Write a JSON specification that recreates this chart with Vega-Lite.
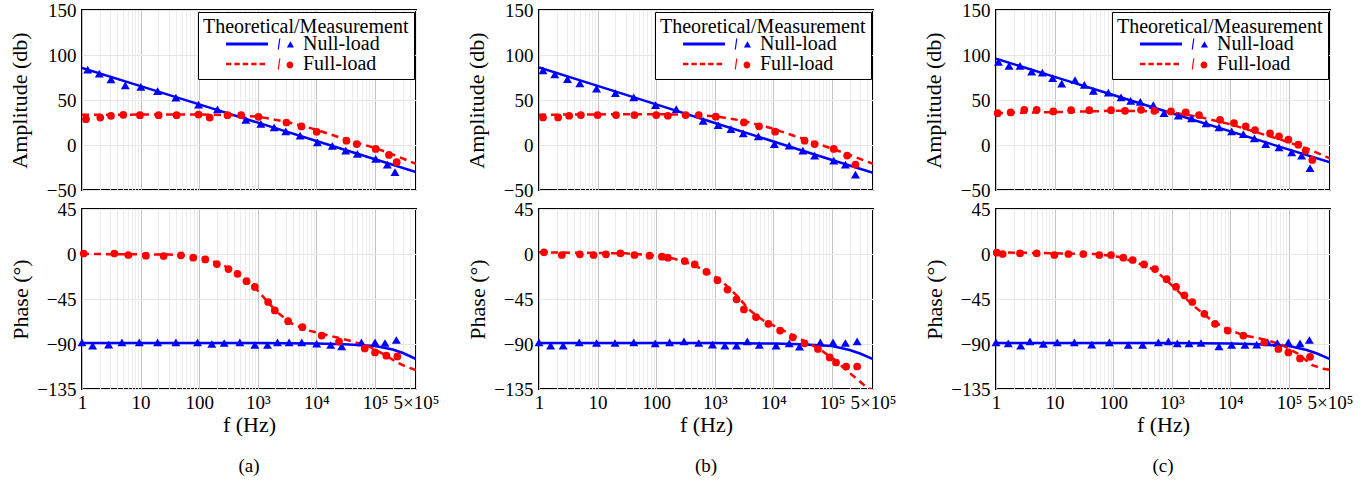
{
  "$schema": "https://vega.github.io/schema/vega-lite/v6.json",
  "background": "white",
  "padding": {"left": 7, "top": 0, "right": 0, "bottom": 0},
  "config": {
    "view": {"stroke": "black", "strokeWidth": 2},
    "font": "Liberation Serif",
    "axis": {"domain": false, "ticks": false, "tickSize": 0, "grid": true, "labelFont": "Liberation Serif", "labelFontSize": 19, "labelColor": "black", "titleFont": "Liberation Serif", "titleFontSize": 22, "titleFontWeight": "normal", "titleColor": "black", "labelPadding": 6, "gridWidth": 1},
    "axisY": {"gridColor": "#e6e6e6", "titlePadding": 15},
    "legend": {"orient": "top-right", "offset": 2, "strokeColor": "black", "fillColor": "white", "padding": 5, "titleFont": "Liberation Serif", "titleFontSize": 20, "titleFontWeight": "normal", "titleColor": "black", "titleLimit": 0, "labelFont": "Liberation Serif", "labelFontSize": 20, "labelColor": "black", "symbolSize": 400, "symbolOffset": 47, "labelOffset": 33, "symbolStrokeWidth": 0, "rowPadding": -1, "titlePadding": -3, "symbolOpacity": 1, "labelLimit": 0},
    "title": {"font": "Liberation Serif", "fontSize": 19, "fontWeight": "normal", "color": "black"}
  },
  "datasets": {
    "amp_th": [
      {"p":"a","s":"Null-load","f":1,"v":85.7},{"p":"a","s":"Null-load","f":10,"v":65.4},{"p":"a","s":"Null-load","f":100,"v":45.1},{"p":"a","s":"Null-load","f":1000,"v":24.8},{"p":"a","s":"Null-load","f":10000,"v":4.5},{"p":"a","s":"Null-load","f":100000,"v":-15.8},{"p":"a","s":"Null-load","f":500000,"v":-30},
      {"p":"a","s":"Full-load","f":1,"v":33.5},{"p":"a","s":"Full-load","f":10,"v":33.8},{"p":"a","s":"Full-load","f":100,"v":33.8},{"p":"a","s":"Full-load","f":300,"v":33.3},{"p":"a","s":"Full-load","f":1000,"v":31.5},{"p":"a","s":"Full-load","f":3000,"v":26},{"p":"a","s":"Full-load","f":10000,"v":17},{"p":"a","s":"Full-load","f":30000,"v":6.6},{"p":"a","s":"Full-load","f":100000,"v":-3.3},{"p":"a","s":"Full-load","f":220000,"v":-11.5},{"p":"a","s":"Full-load","f":500000,"v":-21},
      {"p":"b","s":"Null-load","f":1,"v":86.3},{"p":"b","s":"Null-load","f":10,"v":65.7},{"p":"b","s":"Null-load","f":100,"v":45.1},{"p":"b","s":"Null-load","f":1000,"v":24.5},{"p":"b","s":"Null-load","f":10000,"v":3.9},{"p":"b","s":"Null-load","f":100000,"v":-16.7},{"p":"b","s":"Null-load","f":500000,"v":-31},
      {"p":"b","s":"Full-load","f":1,"v":33.6},{"p":"b","s":"Full-load","f":10,"v":34},{"p":"b","s":"Full-load","f":100,"v":34.3},{"p":"b","s":"Full-load","f":300,"v":33.6},{"p":"b","s":"Full-load","f":1000,"v":32},{"p":"b","s":"Full-load","f":3000,"v":27},{"p":"b","s":"Full-load","f":10000,"v":18},{"p":"b","s":"Full-load","f":30000,"v":7.5},{"p":"b","s":"Full-load","f":100000,"v":-4},{"p":"b","s":"Full-load","f":220000,"v":-12},{"p":"b","s":"Full-load","f":500000,"v":-21},
      {"p":"c","s":"Null-load","f":1,"v":95.9},{"p":"c","s":"Null-load","f":10,"v":75.7},{"p":"c","s":"Null-load","f":100,"v":55.5},{"p":"c","s":"Null-load","f":1000,"v":35.3},{"p":"c","s":"Null-load","f":10000,"v":15.1},{"p":"c","s":"Null-load","f":100000,"v":-5.1},{"p":"c","s":"Null-load","f":500000,"v":-19.2},
      {"p":"c","s":"Full-load","f":1,"v":35.4},{"p":"c","s":"Full-load","f":10,"v":36.5},{"p":"c","s":"Full-load","f":100,"v":38},{"p":"c","s":"Full-load","f":300,"v":37.8},{"p":"c","s":"Full-load","f":1000,"v":36.2},{"p":"c","s":"Full-load","f":3000,"v":31},{"p":"c","s":"Full-load","f":10000,"v":23},{"p":"c","s":"Full-load","f":30000,"v":13.5},{"p":"c","s":"Full-load","f":100000,"v":3},{"p":"c","s":"Full-load","f":220000,"v":-5},{"p":"c","s":"Full-load","f":500000,"v":-14.8}
    ],
    "amp_meas": [
      {"p":"a","s":"Null-load","f":1.25,"v":83.8},{"p":"a","s":"Null-load","f":1.97,"v":79.4},{"p":"a","s":"Null-load","f":3.12,"v":72.8},{"p":"a","s":"Null-load","f":5.48,"v":66.2},{"p":"a","s":"Null-load","f":10.1,"v":64.7},{"p":"a","s":"Null-load","f":19.5,"v":59.9},{"p":"a","s":"Null-load","f":40,"v":52.6},{"p":"a","s":"Null-load","f":97.5,"v":44.9},{"p":"a","s":"Null-load","f":205,"v":39.7},{"p":"a","s":"Null-load","f":624,"v":27.9},{"p":"a","s":"Null-load","f":1125,"v":23.5},{"p":"a","s":"Null-load","f":1900,"v":19.5},{"p":"a","s":"Null-load","f":3000,"v":15.1},{"p":"a","s":"Null-load","f":5270,"v":10.3},{"p":"a","s":"Null-load","f":10400,"v":2.9},{"p":"a","s":"Null-load","f":18700,"v":-1.1},{"p":"a","s":"Null-load","f":31600,"v":-6.3},{"p":"a","s":"Null-load","f":50000,"v":-9.9},{"p":"a","s":"Null-load","f":102600,"v":-15.4},{"p":"a","s":"Null-load","f":162000,"v":-21.7},{"p":"a","s":"Null-load","f":219000,"v":-30.1},
      {"p":"a","s":"Full-load","f":1.17,"v":28.7},{"p":"a","s":"Full-load","f":2.05,"v":30.5},{"p":"a","s":"Full-load","f":3.12,"v":32.4},{"p":"a","s":"Full-load","f":5.07,"v":33.5},{"p":"a","s":"Full-load","f":9.75,"v":33.1},{"p":"a","s":"Full-load","f":20.3,"v":33.1},{"p":"a","s":"Full-load","f":41.1,"v":33.1},{"p":"a","s":"Full-load","f":97.5,"v":33.8},{"p":"a","s":"Full-load","f":151,"v":30.5},{"p":"a","s":"Full-load","f":304,"v":33.1},{"p":"a","s":"Full-load","f":520,"v":33.1},{"p":"a","s":"Full-load","f":1026,"v":31.3},{"p":"a","s":"Full-load","f":3080,"v":25},{"p":"a","s":"Full-load","f":5550,"v":20.6},{"p":"a","s":"Full-load","f":10100,"v":14.7},{"p":"a","s":"Full-load","f":32500,"v":4.8},{"p":"a","s":"Full-load","f":48700,"v":1.1},{"p":"a","s":"Full-load","f":102600,"v":-4.4},{"p":"a","s":"Full-load","f":173000,"v":-11},{"p":"a","s":"Full-load","f":234000,"v":-19.1},
      {"p":"b","s":"Null-load","f":1.17,"v":83},{"p":"b","s":"Null-load","f":1.86,"v":78.6},{"p":"b","s":"Null-load","f":3.06,"v":73.1},{"p":"b","s":"Null-load","f":4.98,"v":68.6},{"p":"b","s":"Null-load","f":9.6,"v":62.7},{"p":"b","s":"Null-load","f":20.1,"v":57.6},{"p":"b","s":"Null-load","f":41.4,"v":52.8},{"p":"b","s":"Null-load","f":97.4,"v":44.3},{"p":"b","s":"Null-load","f":220,"v":39.9},{"p":"b","s":"Null-load","f":631,"v":26.9},{"p":"b","s":"Null-load","f":1140,"v":22.1},{"p":"b","s":"Null-load","f":1880,"v":17.7},{"p":"b","s":"Null-load","f":3060,"v":12.9},{"p":"b","s":"Null-load","f":5530,"v":9.6},{"p":"b","s":"Null-load","f":10400,"v":1.1},{"p":"b","s":"Null-load","f":18600,"v":-0.7},{"p":"b","s":"Null-load","f":31800,"v":-6.3},{"p":"b","s":"Null-load","f":50500,"v":-11.8},{"p":"b","s":"Null-load","f":107000,"v":-17.3},{"p":"b","s":"Null-load","f":169000,"v":-21.8},{"p":"b","s":"Null-load","f":251000,"v":-32.8},
      {"p":"b","s":"Full-load","f":1.17,"v":30.6},{"p":"b","s":"Full-load","f":2.12,"v":30.6},{"p":"b","s":"Full-load","f":3.27,"v":32.5},{"p":"b","s":"Full-load","f":5.18,"v":33.2},{"p":"b","s":"Full-load","f":10,"v":33.2},{"p":"b","s":"Full-load","f":20.6,"v":33.2},{"p":"b","s":"Full-load","f":42.5,"v":33.2},{"p":"b","s":"Full-load","f":100,"v":33.2},{"p":"b","s":"Full-load","f":158,"v":32.5},{"p":"b","s":"Full-load","f":318,"v":33.2},{"p":"b","s":"Full-load","f":532,"v":33.2},{"p":"b","s":"Full-load","f":1040,"v":31.4},{"p":"b","s":"Full-load","f":3140,"v":25.1},{"p":"b","s":"Full-load","f":5680,"v":20.7},{"p":"b","s":"Full-load","f":10700,"v":14.8},{"p":"b","s":"Full-load","f":34000,"v":4.8},{"p":"b","s":"Full-load","f":50500,"v":1.1},{"p":"b","s":"Full-load","f":107000,"v":-4.4},{"p":"b","s":"Full-load","f":181000,"v":-11.8},{"p":"b","s":"Full-load","f":251000,"v":-21.8},
      {"p":"c","s":"Null-load","f":1.1,"v":92.3},{"p":"c","s":"Null-load","f":1.67,"v":87.8},{"p":"c","s":"Null-load","f":2.57,"v":87.8},{"p":"c","s":"Null-load","f":4.06,"v":81.5},{"p":"c","s":"Null-load","f":6.18,"v":80.4},{"p":"c","s":"Null-load","f":9.27,"v":74.2},{"p":"c","s":"Null-load","f":13.2,"v":68.3},{"p":"c","s":"Null-load","f":22.3,"v":72},{"p":"c","s":"Null-load","f":32.2,"v":66.8},{"p":"c","s":"Null-load","f":45.8,"v":60.1},{"p":"c","s":"Null-load","f":82.6,"v":58.3},{"p":"c","s":"Null-load","f":136,"v":52.8},{"p":"c","s":"Null-load","f":199,"v":49.1},{"p":"c","s":"Null-load","f":290,"v":48},{"p":"c","s":"Null-load","f":484,"v":44.3},{"p":"c","s":"Null-load","f":736,"v":35.4},{"p":"c","s":"Null-load","f":1290,"v":32.5},{"p":"c","s":"Null-load","f":2180,"v":29.5},{"p":"c","s":"Null-load","f":3840,"v":24},{"p":"c","s":"Null-load","f":6380,"v":19.6},{"p":"c","s":"Null-load","f":10500,"v":15.1},{"p":"c","s":"Null-load","f":16600,"v":12.2},{"p":"c","s":"Null-load","f":25600,"v":7.4},{"p":"c","s":"Null-load","f":40000,"v":1.1},{"p":"c","s":"Null-load","f":67400,"v":-2.6},{"p":"c","s":"Null-load","f":111000,"v":-8.1},{"p":"c","s":"Null-load","f":164000,"v":-11.8},{"p":"c","s":"Null-load","f":228000,"v":-25.8},
      {"p":"c","s":"Full-load","f":1.07,"v":35.4},{"p":"c","s":"Full-load","f":1.78,"v":36.2},{"p":"c","s":"Full-load","f":3.04,"v":39.1},{"p":"c","s":"Full-load","f":4.94,"v":39.1},{"p":"c","s":"Full-load","f":9.51,"v":37.3},{"p":"c","s":"Full-load","f":19.1,"v":38.7},{"p":"c","s":"Full-load","f":39.1,"v":38.7},{"p":"c","s":"Full-load","f":91.7,"v":38.7},{"p":"c","s":"Full-load","f":159,"v":38},{"p":"c","s":"Full-load","f":298,"v":39.1},{"p":"c","s":"Full-load","f":504,"v":38},{"p":"c","s":"Full-load","f":968,"v":37.3},{"p":"c","s":"Full-load","f":1730,"v":36.2},{"p":"c","s":"Full-load","f":2910,"v":33.2},{"p":"c","s":"Full-load","f":6650,"v":28},{"p":"c","s":"Full-load","f":11500,"v":24.4},{"p":"c","s":"Full-load","f":18200,"v":20.7},{"p":"c","s":"Full-load","f":26300,"v":16.6},{"p":"c","s":"Full-load","f":47400,"v":12.9},{"p":"c","s":"Full-load","f":67400,"v":9.6},{"p":"c","s":"Full-load","f":97500,"v":5.9},{"p":"c","s":"Full-load","f":144000,"v":0.4},{"p":"c","s":"Full-load","f":192000,"v":-6.3},{"p":"c","s":"Full-load","f":250000,"v":-16.6}
    ],
    "ph_th": [
      {"p":"a","s":"Null-load","f":1,"v":-89},{"p":"a","s":"Null-load","f":1000,"v":-89},{"p":"a","s":"Null-load","f":10000,"v":-89.5},{"p":"a","s":"Null-load","f":30000,"v":-90.2},{"p":"a","s":"Null-load","f":100000,"v":-92},{"p":"a","s":"Null-load","f":200000,"v":-95.5},{"p":"a","s":"Null-load","f":300000,"v":-99},{"p":"a","s":"Null-load","f":500000,"v":-105},
      {"p":"a","s":"Full-load","f":1,"v":0},{"p":"a","s":"Full-load","f":30,"v":-0.5},{"p":"a","s":"Full-load","f":60,"v":-1.5},{"p":"a","s":"Full-load","f":114,"v":-3.7},{"p":"a","s":"Full-load","f":219,"v":-9.4},{"p":"a","s":"Full-load","f":422,"v":-17.8},{"p":"a","s":"Full-load","f":711,"v":-28.5},{"p":"a","s":"Full-load","f":1054,"v":-38},{"p":"a","s":"Full-load","f":1560,"v":-49.7},{"p":"a","s":"Full-load","f":2310,"v":-59.8},{"p":"a","s":"Full-load","f":3900,"v":-69.8},{"p":"a","s":"Full-load","f":7500,"v":-76.6},{"p":"a","s":"Full-load","f":16400,"v":-81.6},{"p":"a","s":"Full-load","f":36000,"v":-86.5},{"p":"a","s":"Full-load","f":79000,"v":-92.5},{"p":"a","s":"Full-load","f":150000,"v":-101},{"p":"a","s":"Full-load","f":230000,"v":-108},{"p":"a","s":"Full-load","f":350000,"v":-113},{"p":"a","s":"Full-load","f":500000,"v":-116},
      {"p":"b","s":"Null-load","f":1,"v":-89},{"p":"b","s":"Null-load","f":1000,"v":-89},{"p":"b","s":"Null-load","f":10000,"v":-89.5},{"p":"b","s":"Null-load","f":30000,"v":-90.2},{"p":"b","s":"Null-load","f":100000,"v":-92},{"p":"b","s":"Null-load","f":200000,"v":-96},{"p":"b","s":"Null-load","f":300000,"v":-99.5},{"p":"b","s":"Null-load","f":500000,"v":-105},
      {"p":"b","s":"Full-load","f":1,"v":1.7},{"p":"b","s":"Full-load","f":30,"v":0.7},{"p":"b","s":"Full-load","f":100,"v":-1.7},{"p":"b","s":"Full-load","f":193,"v":-4.4},{"p":"b","s":"Full-load","f":373,"v":-9.4},{"p":"b","s":"Full-load","f":719,"v":-17.1},{"p":"b","s":"Full-load","f":1390,"v":-28.5},{"p":"b","s":"Full-load","f":2350,"v":-41.3},{"p":"b","s":"Full-load","f":3980,"v":-56.4},{"p":"b","s":"Full-load","f":6740,"v":-66.5},{"p":"b","s":"Full-load","f":13000,"v":-74.9},{"p":"b","s":"Full-load","f":22000,"v":-81.6},{"p":"b","s":"Full-load","f":37300,"v":-88.3},{"p":"b","s":"Full-load","f":63100,"v":-95.7},{"p":"b","s":"Full-load","f":107000,"v":-105.1},{"p":"b","s":"Full-load","f":181000,"v":-116.9},{"p":"b","s":"Full-load","f":398000,"v":-133.6},{"p":"b","s":"Full-load","f":485000,"v":-136},
      {"p":"c","s":"Null-load","f":1,"v":-89},{"p":"c","s":"Null-load","f":1000,"v":-89},{"p":"c","s":"Null-load","f":10000,"v":-89.5},{"p":"c","s":"Null-load","f":30000,"v":-90.2},{"p":"c","s":"Null-load","f":100000,"v":-92},{"p":"c","s":"Null-load","f":200000,"v":-96},{"p":"c","s":"Null-load","f":300000,"v":-99.5},{"p":"c","s":"Null-load","f":500000,"v":-105},
      {"p":"c","s":"Full-load","f":1,"v":1.7},{"p":"c","s":"Full-load","f":49,"v":0},{"p":"c","s":"Full-load","f":122,"v":-2.7},{"p":"c","s":"Full-load","f":269,"v":-9.4},{"p":"c","s":"Full-load","f":517,"v":-16.1},{"p":"c","s":"Full-load","f":873,"v":-27.9},{"p":"c","s":"Full-load","f":1470,"v":-40.6},{"p":"c","s":"Full-load","f":2490,"v":-53},{"p":"c","s":"Full-load","f":4790,"v":-66.5},{"p":"c","s":"Full-load","f":9220,"v":-75.9},{"p":"c","s":"Full-load","f":17700,"v":-81.6},{"p":"c","s":"Full-load","f":38900,"v":-85.6},{"p":"c","s":"Full-load","f":75000,"v":-90.7},{"p":"c","s":"Full-load","f":144000,"v":-100},{"p":"c","s":"Full-load","f":244000,"v":-111},{"p":"c","s":"Full-load","f":360000,"v":-114.5},{"p":"c","s":"Full-load","f":500000,"v":-115.8}
    ],
    "ph_meas": [
      {"p":"a","s":"Null-load","f":1,"v":-88.3},{"p":"a","s":"Null-load","f":1.52,"v":-91.7},{"p":"a","s":"Null-load","f":2.85,"v":-90.7},{"p":"a","s":"Null-load","f":4.8,"v":-88.3},{"p":"a","s":"Null-load","f":9.5,"v":-88.3},{"p":"a","s":"Null-load","f":19.5,"v":-88.3},{"p":"a","s":"Null-load","f":40,"v":-88.3},{"p":"a","s":"Null-load","f":93.7,"v":-88.3},{"p":"a","s":"Null-load","f":164,"v":-90},{"p":"a","s":"Null-load","f":267,"v":-89},{"p":"a","s":"Null-load","f":493,"v":-88.3},{"p":"a","s":"Null-load","f":889,"v":-91},{"p":"a","s":"Null-load","f":1462,"v":-91},{"p":"a","s":"Null-load","f":2163,"v":-88.3},{"p":"a","s":"Null-load","f":3420,"v":-88.3},{"p":"a","s":"Null-load","f":5620,"v":-88.3},{"p":"a","s":"Null-load","f":10100,"v":-89.7},{"p":"a","s":"Null-load","f":17500,"v":-91},{"p":"a","s":"Null-load","f":27000,"v":-92.3},{"p":"a","s":"Null-load","f":58500,"v":-88.3},{"p":"a","s":"Null-load","f":100000,"v":-88.3},{"p":"a","s":"Null-load","f":148000,"v":-89},{"p":"a","s":"Null-load","f":231000,"v":-86},
      {"p":"a","s":"Full-load","f":1.07,"v":0.5},{"p":"a","s":"Full-load","f":3.56,"v":0.5},{"p":"a","s":"Full-load","f":6.17,"v":-1},{"p":"a","s":"Full-load","f":12.3,"v":-1.7},{"p":"a","s":"Full-load","f":24.7,"v":-2},{"p":"a","s":"Full-load","f":48.7,"v":-1.3},{"p":"a","s":"Full-load","f":79,"v":-3.7},{"p":"a","s":"Full-load","f":127,"v":-5.4},{"p":"a","s":"Full-load","f":200,"v":-10.1},{"p":"a","s":"Full-load","f":316,"v":-15.1},{"p":"a","s":"Full-load","f":450,"v":-19.8},{"p":"a","s":"Full-load","f":641,"v":-27.2},{"p":"a","s":"Full-load","f":889,"v":-32.9},{"p":"a","s":"Full-load","f":1500,"v":-48},{"p":"a","s":"Full-load","f":1950,"v":-56.4},{"p":"a","s":"Full-load","f":3290,"v":-67.2},{"p":"a","s":"Full-load","f":5770,"v":-73.2},{"p":"a","s":"Full-load","f":12300,"v":-81.6},{"p":"a","s":"Full-load","f":24300,"v":-87.6},{"p":"a","s":"Full-load","f":66700,"v":-94.4},{"p":"a","s":"Full-load","f":100000,"v":-98.4},{"p":"a","s":"Full-load","f":156000,"v":-101.7},{"p":"a","s":"Full-load","f":240000,"v":-102.4},
      {"p":"b","s":"Null-load","f":1,"v":-88.3},{"p":"b","s":"Null-load","f":1.58,"v":-91.7},{"p":"b","s":"Null-load","f":2.58,"v":-91.7},{"p":"b","s":"Null-load","f":4.85,"v":-88.3},{"p":"b","s":"Null-load","f":9.6,"v":-89},{"p":"b","s":"Null-load","f":19.8,"v":-89},{"p":"b","s":"Null-load","f":41.4,"v":-88.3},{"p":"b","s":"Null-load","f":96.2,"v":-89.3},{"p":"b","s":"Null-load","f":169,"v":-88.3},{"p":"b","s":"Null-load","f":298,"v":-87.3},{"p":"b","s":"Null-load","f":532,"v":-89},{"p":"b","s":"Null-load","f":912,"v":-90.7},{"p":"b","s":"Null-load","f":1484,"v":-91.7},{"p":"b","s":"Null-load","f":2350,"v":-91.7},{"p":"b","s":"Null-load","f":3580,"v":-87.3},{"p":"b","s":"Null-load","f":5750,"v":-91},{"p":"b","s":"Null-load","f":11100,"v":-91.7},{"p":"b","s":"Null-load","f":18600,"v":-89.3},{"p":"b","s":"Null-load","f":27900,"v":-92.7},{"p":"b","s":"Null-load","f":63100,"v":-88.3},{"p":"b","s":"Null-load","f":104000,"v":-88.3},{"p":"b","s":"Null-load","f":169000,"v":-89},{"p":"b","s":"Null-load","f":268000,"v":-87.3},
      {"p":"b","s":"Full-load","f":1.22,"v":1.7},{"p":"b","s":"Full-load","f":2.45,"v":-1},{"p":"b","s":"Full-load","f":4.98,"v":-0.3},{"p":"b","s":"Full-load","f":8.54,"v":-1},{"p":"b","s":"Full-load","f":13.9,"v":-0.3},{"p":"b","s":"Full-load","f":24.5,"v":0.7},{"p":"b","s":"Full-load","f":42.5,"v":-1},{"p":"b","s":"Full-load","f":76.9,"v":-1.7},{"p":"b","s":"Full-load","f":125,"v":-2.7},{"p":"b","s":"Full-load","f":158,"v":-3.7},{"p":"b","s":"Full-load","f":306,"v":-7.1},{"p":"b","s":"Full-load","f":454,"v":-10.4},{"p":"b","s":"Full-load","f":719,"v":-17.8},{"p":"b","s":"Full-load","f":1110,"v":-26.2},{"p":"b","s":"Full-load","f":1650,"v":-35.6},{"p":"b","s":"Full-load","f":2350,"v":-45.3},{"p":"b","s":"Full-load","f":3140,"v":-55.4},{"p":"b","s":"Full-load","f":5040,"v":-63.1},{"p":"b","s":"Full-load","f":8210,"v":-69.8},{"p":"b","s":"Full-load","f":13000,"v":-76.6},{"p":"b","s":"Full-load","f":21400,"v":-83.3},{"p":"b","s":"Full-load","f":34000,"v":-89.3},{"p":"b","s":"Full-load","f":57500,"v":-95},{"p":"b","s":"Full-load","f":91200,"v":-103.4},{"p":"b","s":"Full-load","f":117000,"v":-108.5},{"p":"b","s":"Full-load","f":174000,"v":-112.5},{"p":"b","s":"Full-load","f":268000,"v":-112.5},
      {"p":"c","s":"Null-load","f":1,"v":-88.3},{"p":"c","s":"Null-load","f":1.62,"v":-89.3},{"p":"c","s":"Null-load","f":2.64,"v":-91.7},{"p":"c","s":"Null-load","f":3.8,"v":-87.3},{"p":"c","s":"Null-load","f":6.42,"v":-90},{"p":"c","s":"Null-load","f":11.1,"v":-88.3},{"p":"c","s":"Null-load","f":21.7,"v":-88.3},{"p":"c","s":"Null-load","f":42.9,"v":-90.7},{"p":"c","s":"Null-load","f":85.9,"v":-88.3},{"p":"c","s":"Null-load","f":181,"v":-91},{"p":"c","s":"Null-load","f":318,"v":-91},{"p":"c","s":"Null-load","f":589,"v":-88.3},{"p":"c","s":"Null-load","f":873,"v":-87.3},{"p":"c","s":"Null-load","f":1240,"v":-89.3},{"p":"c","s":"Null-load","f":1970,"v":-89.3},{"p":"c","s":"Null-load","f":3150,"v":-89},{"p":"c","s":"Null-load","f":6380,"v":-92.3},{"p":"c","s":"Null-load","f":10500,"v":-91},{"p":"c","s":"Null-load","f":17700,"v":-91},{"p":"c","s":"Null-load","f":28100,"v":-90.7},{"p":"c","s":"Null-load","f":43200,"v":-88.3},{"p":"c","s":"Null-load","f":63200,"v":-89},{"p":"c","s":"Null-load","f":97500,"v":-88.3},{"p":"c","s":"Null-load","f":154000,"v":-89.3},{"p":"c","s":"Null-load","f":222000,"v":-86},
      {"p":"c","s":"Full-load","f":1.03,"v":1.3},{"p":"c","s":"Full-load","f":1.3,"v":0},{"p":"c","s":"Full-load","f":2.57,"v":0.7},{"p":"c","s":"Full-load","f":4.94,"v":0.7},{"p":"c","s":"Full-load","f":9.9,"v":-1},{"p":"c","s":"Full-load","f":17.2,"v":0},{"p":"c","s":"Full-load","f":30.9,"v":0},{"p":"c","s":"Full-load","f":58,"v":-1},{"p":"c","s":"Full-load","f":91.7,"v":-1},{"p":"c","s":"Full-load","f":149,"v":-3.7},{"p":"c","s":"Full-load","f":215,"v":-6},{"p":"c","s":"Full-load","f":336,"v":-10.4},{"p":"c","s":"Full-load","f":517,"v":-15.1},{"p":"c","s":"Full-load","f":817,"v":-25.2},{"p":"c","s":"Full-load","f":1180,"v":-32.9},{"p":"c","s":"Full-load","f":1640,"v":-41.3},{"p":"c","s":"Full-load","f":2240,"v":-48},{"p":"c","s":"Full-load","f":3590,"v":-59.8},{"p":"c","s":"Full-load","f":5460,"v":-69.8},{"p":"c","s":"Full-load","f":8980,"v":-76.6},{"p":"c","s":"Full-load","f":16600,"v":-81.6},{"p":"c","s":"Full-load","f":37900,"v":-88.3},{"p":"c","s":"Full-load","f":65800,"v":-95},{"p":"c","s":"Full-load","f":97500,"v":-98.4},{"p":"c","s":"Full-load","f":154000,"v":-104.4},{"p":"c","s":"Full-load","f":228000,"v":-102.8}
    ]
  },
  "resolve": {"scale": {"color": "independent", "shape": "independent"}, "legend": {"color": "independent", "shape": "independent"}},
  "hconcat": [
    {
      "bounds": "flush", "spacing": 19,
      "resolve": {"scale": {"color": "independent", "shape": "independent"}, "legend": {"color": "independent", "shape": "independent"}},
      "vconcat": [
        {
          "width": 334, "height": 180,
          "encoding": {
            "x": {"field": "f", "type": "quantitative", "scale": {"type": "log", "domain": [1, 500000], "nice": false},
              "axis": {"values": [1,2,3,4,5,6,7,8,9,10,20,30,40,50,60,70,80,90,100,200,300,400,500,600,700,800,900,1000,2000,3000,4000,5000,6000,7000,8000,9000,10000,20000,30000,40000,50000,60000,70000,80000,90000,100000,200000,300000,400000,500000], "labels": false, "title": null,
                "gridColor": {"condition": {"test": "datum.value==1||datum.value==10||datum.value==100||datum.value==1000||datum.value==10000||datum.value==100000", "value": "#c4c4c4"}, "value": "#ececec"}}},
            "y": {"field": "v", "type": "quantitative", "scale": {"domain": [-50, 150], "nice": false, "zero": false}, "axis": {"values": [-50, 0, 50, 100, 150], "title": "Amplitude (db)"}}
          },
          "layer": [
            {"data": {"name": "amp_th"}, "transform": [{"filter": "datum.p=='a' && datum.s=='Null-load'"}], "mark": {"type": "line", "color": "#0000ff", "strokeWidth": 2.5, "clip": true}, "encoding": {}},
            {"data": {"name": "amp_th"}, "transform": [{"filter": "datum.p=='a' && datum.s=='Full-load'"}], "mark": {"type": "line", "color": "#ff0000", "strokeWidth": 2.5, "strokeDash": [7, 5], "clip": true}, "encoding": {}},
            {"data": {"name": "amp_meas"}, "transform": [{"filter": "datum.p=='a' && datum.s=='Null-load'"}], "mark": {"type": "point", "shape": "triangle-up", "filled": true, "color": "#0000ff", "size": 80, "opacity": 1}},
            {"data": {"name": "amp_meas"}, "transform": [{"filter": "datum.p=='a' && datum.s=='Full-load'"}], "mark": {"type": "point", "shape": "circle", "filled": true, "color": "#ff0000", "size": 60, "opacity": 1}},
            {"data": {"values": []}, "mark": {"type": "point", "filled": true, "opacity": 1},
              "encoding": {
                "color": {"field": "s", "type": "nominal", "title": "Theoretical/Measurement", "scale": {"domain": ["Null-load", "Full-load"], "range": ["#0000ff", "#ff0000"]}},
                "shape": {"field": "s", "type": "nominal", "title": "Theoretical/Measurement", "scale": {"domain": ["Null-load", "Full-load"], "range": ["M-3.4,-0.15 H0.8 V0.15 H-3.4 Z M1.768,0.544 L1.887,0.544 L2.04,-0.544 L1.921,-0.544 Z M3.043,-0.272 L3.4,0.34 L2.686,0.34 Z", "M-3.4,-0.126 H-2.859 V0.126 H-3.4 Z M-2.56,-0.126 H-2.02 V0.126 H-2.56 Z M-1.72,-0.126 H-1.18 V0.126 H-1.72 Z M-0.881,-0.126 H-0.34 V0.126 H-0.881 Z M-0.041,-0.126 H0.5 V0.126 H-0.041 Z M1.768,0.544 L1.887,0.544 L2.04,-0.544 L1.921,-0.544 Z M2.652,0.102 A0.34,0.34 0 1,0 3.332,0.102 A0.34,0.34 0 1,0 2.652,0.102 Z"]}}
              }}
          ]
        },
        {
          "width": 334, "height": 180,
          "title": {"text": "(a)", "orient": "bottom", "anchor": "middle", "frame": "group", "offset": 22},
          "encoding": {
            "x": {"field": "f", "type": "quantitative", "scale": {"type": "log", "domain": [1, 500000], "nice": false},
              "axis": {"values": [1,2,3,4,5,6,7,8,9,10,20,30,40,50,60,70,80,90,100,200,300,400,500,600,700,800,900,1000,2000,3000,4000,5000,6000,7000,8000,9000,10000,20000,30000,40000,50000,60000,70000,80000,90000,100000,200000,300000,400000,500000], "title": "f (Hz)", "labelOverlap": false, "labelFlush": false, "labelPadding": 4, "titlePadding": 2,
                "labelExpr": "datum.value==1?'1':datum.value==10?'10':datum.value==100?'100':datum.value==1000?'10³':datum.value==10000?'10⁴':datum.value==100000?'10⁵':datum.value==500000?'5×10⁵':''",
                "gridColor": {"condition": {"test": "datum.value==1||datum.value==10||datum.value==100||datum.value==1000||datum.value==10000||datum.value==100000", "value": "#c4c4c4"}, "value": "#ececec"}}},
            "y": {"field": "v", "type": "quantitative", "scale": {"domain": [-135, 45], "nice": false, "zero": false}, "axis": {"values": [-135, -90, -45, 0, 45], "title": "Phase (°)", "titlePadding": 4}}
          },
          "layer": [
            {"data": {"name": "ph_th"}, "transform": [{"filter": "datum.p=='a' && datum.s=='Null-load'"}], "mark": {"type": "line", "color": "#0000ff", "strokeWidth": 2.5, "clip": true}, "encoding": {}},
            {"data": {"name": "ph_th"}, "transform": [{"filter": "datum.p=='a' && datum.s=='Full-load'"}], "mark": {"type": "line", "color": "#ff0000", "strokeWidth": 2.5, "strokeDash": [7, 5], "clip": true}, "encoding": {}},
            {"data": {"name": "ph_meas"}, "transform": [{"filter": "datum.p=='a' && datum.s=='Null-load'"}], "mark": {"type": "point", "shape": "triangle-up", "filled": true, "color": "#0000ff", "size": 80, "opacity": 1}},
            {"data": {"name": "ph_meas"}, "transform": [{"filter": "datum.p=='a' && datum.s=='Full-load'"}], "mark": {"type": "point", "shape": "circle", "filled": true, "color": "#ff0000", "size": 60, "opacity": 1}}
          ]
        }
      ]
    },
    {
      "bounds": "flush", "spacing": 19,
      "resolve": {"scale": {"color": "independent", "shape": "independent"}, "legend": {"color": "independent", "shape": "independent"}},
      "vconcat": [
        {
          "width": 334, "height": 180,
          "encoding": {
            "x": {"field": "f", "type": "quantitative", "scale": {"type": "log", "domain": [1, 500000], "nice": false},
              "axis": {"values": [1,2,3,4,5,6,7,8,9,10,20,30,40,50,60,70,80,90,100,200,300,400,500,600,700,800,900,1000,2000,3000,4000,5000,6000,7000,8000,9000,10000,20000,30000,40000,50000,60000,70000,80000,90000,100000,200000,300000,400000,500000], "labels": false, "title": null,
                "gridColor": {"condition": {"test": "datum.value==1||datum.value==10||datum.value==100||datum.value==1000||datum.value==10000||datum.value==100000", "value": "#c4c4c4"}, "value": "#ececec"}}},
            "y": {"field": "v", "type": "quantitative", "scale": {"domain": [-50, 150], "nice": false, "zero": false}, "axis": {"values": [-50, 0, 50, 100, 150], "title": "Amplitude (db)"}}
          },
          "layer": [
            {"data": {"name": "amp_th"}, "transform": [{"filter": "datum.p=='b' && datum.s=='Null-load'"}], "mark": {"type": "line", "color": "#0000ff", "strokeWidth": 2.5, "clip": true}, "encoding": {}},
            {"data": {"name": "amp_th"}, "transform": [{"filter": "datum.p=='b' && datum.s=='Full-load'"}], "mark": {"type": "line", "color": "#ff0000", "strokeWidth": 2.5, "strokeDash": [7, 5], "clip": true}, "encoding": {}},
            {"data": {"name": "amp_meas"}, "transform": [{"filter": "datum.p=='b' && datum.s=='Null-load'"}], "mark": {"type": "point", "shape": "triangle-up", "filled": true, "color": "#0000ff", "size": 80, "opacity": 1}},
            {"data": {"name": "amp_meas"}, "transform": [{"filter": "datum.p=='b' && datum.s=='Full-load'"}], "mark": {"type": "point", "shape": "circle", "filled": true, "color": "#ff0000", "size": 60, "opacity": 1}},
            {"data": {"values": []}, "mark": {"type": "point", "filled": true, "opacity": 1},
              "encoding": {
                "color": {"field": "s", "type": "nominal", "title": "Theoretical/Measurement", "scale": {"domain": ["Null-load", "Full-load"], "range": ["#0000ff", "#ff0000"]}},
                "shape": {"field": "s", "type": "nominal", "title": "Theoretical/Measurement", "scale": {"domain": ["Null-load", "Full-load"], "range": ["M-3.4,-0.15 H0.8 V0.15 H-3.4 Z M1.768,0.544 L1.887,0.544 L2.04,-0.544 L1.921,-0.544 Z M3.043,-0.272 L3.4,0.34 L2.686,0.34 Z", "M-3.4,-0.126 H-2.859 V0.126 H-3.4 Z M-2.56,-0.126 H-2.02 V0.126 H-2.56 Z M-1.72,-0.126 H-1.18 V0.126 H-1.72 Z M-0.881,-0.126 H-0.34 V0.126 H-0.881 Z M-0.041,-0.126 H0.5 V0.126 H-0.041 Z M1.768,0.544 L1.887,0.544 L2.04,-0.544 L1.921,-0.544 Z M2.652,0.102 A0.34,0.34 0 1,0 3.332,0.102 A0.34,0.34 0 1,0 2.652,0.102 Z"]}}
              }}
          ]
        },
        {
          "width": 334, "height": 180,
          "title": {"text": "(b)", "orient": "bottom", "anchor": "middle", "frame": "group", "offset": 22},
          "encoding": {
            "x": {"field": "f", "type": "quantitative", "scale": {"type": "log", "domain": [1, 500000], "nice": false},
              "axis": {"values": [1,2,3,4,5,6,7,8,9,10,20,30,40,50,60,70,80,90,100,200,300,400,500,600,700,800,900,1000,2000,3000,4000,5000,6000,7000,8000,9000,10000,20000,30000,40000,50000,60000,70000,80000,90000,100000,200000,300000,400000,500000], "title": "f (Hz)", "labelOverlap": false, "labelFlush": false, "labelPadding": 4, "titlePadding": 2,
                "labelExpr": "datum.value==1?'1':datum.value==10?'10':datum.value==100?'100':datum.value==1000?'10³':datum.value==10000?'10⁴':datum.value==100000?'10⁵':datum.value==500000?'5×10⁵':''",
                "gridColor": {"condition": {"test": "datum.value==1||datum.value==10||datum.value==100||datum.value==1000||datum.value==10000||datum.value==100000", "value": "#c4c4c4"}, "value": "#ececec"}}},
            "y": {"field": "v", "type": "quantitative", "scale": {"domain": [-135, 45], "nice": false, "zero": false}, "axis": {"values": [-135, -90, -45, 0, 45], "title": "Phase (°)", "titlePadding": 4}}
          },
          "layer": [
            {"data": {"name": "ph_th"}, "transform": [{"filter": "datum.p=='b' && datum.s=='Null-load'"}], "mark": {"type": "line", "color": "#0000ff", "strokeWidth": 2.5, "clip": true}, "encoding": {}},
            {"data": {"name": "ph_th"}, "transform": [{"filter": "datum.p=='b' && datum.s=='Full-load'"}], "mark": {"type": "line", "color": "#ff0000", "strokeWidth": 2.5, "strokeDash": [7, 5], "clip": true}, "encoding": {}},
            {"data": {"name": "ph_meas"}, "transform": [{"filter": "datum.p=='b' && datum.s=='Null-load'"}], "mark": {"type": "point", "shape": "triangle-up", "filled": true, "color": "#0000ff", "size": 80, "opacity": 1}},
            {"data": {"name": "ph_meas"}, "transform": [{"filter": "datum.p=='b' && datum.s=='Full-load'"}], "mark": {"type": "point", "shape": "circle", "filled": true, "color": "#ff0000", "size": 60, "opacity": 1}}
          ]
        }
      ]
    },
    {
      "bounds": "flush", "spacing": 19,
      "resolve": {"scale": {"color": "independent", "shape": "independent"}, "legend": {"color": "independent", "shape": "independent"}},
      "vconcat": [
        {
          "width": 334, "height": 180,
          "encoding": {
            "x": {"field": "f", "type": "quantitative", "scale": {"type": "log", "domain": [1, 500000], "nice": false},
              "axis": {"values": [1,2,3,4,5,6,7,8,9,10,20,30,40,50,60,70,80,90,100,200,300,400,500,600,700,800,900,1000,2000,3000,4000,5000,6000,7000,8000,9000,10000,20000,30000,40000,50000,60000,70000,80000,90000,100000,200000,300000,400000,500000], "labels": false, "title": null,
                "gridColor": {"condition": {"test": "datum.value==1||datum.value==10||datum.value==100||datum.value==1000||datum.value==10000||datum.value==100000", "value": "#c4c4c4"}, "value": "#ececec"}}},
            "y": {"field": "v", "type": "quantitative", "scale": {"domain": [-50, 150], "nice": false, "zero": false}, "axis": {"values": [-50, 0, 50, 100, 150], "title": "Amplitude (db)"}}
          },
          "layer": [
            {"data": {"name": "amp_th"}, "transform": [{"filter": "datum.p=='c' && datum.s=='Null-load'"}], "mark": {"type": "line", "color": "#0000ff", "strokeWidth": 2.5, "clip": true}, "encoding": {}},
            {"data": {"name": "amp_th"}, "transform": [{"filter": "datum.p=='c' && datum.s=='Full-load'"}], "mark": {"type": "line", "color": "#ff0000", "strokeWidth": 2.5, "strokeDash": [7, 5], "clip": true}, "encoding": {}},
            {"data": {"name": "amp_meas"}, "transform": [{"filter": "datum.p=='c' && datum.s=='Null-load'"}], "mark": {"type": "point", "shape": "triangle-up", "filled": true, "color": "#0000ff", "size": 80, "opacity": 1}},
            {"data": {"name": "amp_meas"}, "transform": [{"filter": "datum.p=='c' && datum.s=='Full-load'"}], "mark": {"type": "point", "shape": "circle", "filled": true, "color": "#ff0000", "size": 60, "opacity": 1}},
            {"data": {"values": []}, "mark": {"type": "point", "filled": true, "opacity": 1},
              "encoding": {
                "color": {"field": "s", "type": "nominal", "title": "Theoretical/Measurement", "scale": {"domain": ["Null-load", "Full-load"], "range": ["#0000ff", "#ff0000"]}},
                "shape": {"field": "s", "type": "nominal", "title": "Theoretical/Measurement", "scale": {"domain": ["Null-load", "Full-load"], "range": ["M-3.4,-0.15 H0.8 V0.15 H-3.4 Z M1.768,0.544 L1.887,0.544 L2.04,-0.544 L1.921,-0.544 Z M3.043,-0.272 L3.4,0.34 L2.686,0.34 Z", "M-3.4,-0.126 H-2.859 V0.126 H-3.4 Z M-2.56,-0.126 H-2.02 V0.126 H-2.56 Z M-1.72,-0.126 H-1.18 V0.126 H-1.72 Z M-0.881,-0.126 H-0.34 V0.126 H-0.881 Z M-0.041,-0.126 H0.5 V0.126 H-0.041 Z M1.768,0.544 L1.887,0.544 L2.04,-0.544 L1.921,-0.544 Z M2.652,0.102 A0.34,0.34 0 1,0 3.332,0.102 A0.34,0.34 0 1,0 2.652,0.102 Z"]}}
              }}
          ]
        },
        {
          "width": 334, "height": 180,
          "title": {"text": "(c)", "orient": "bottom", "anchor": "middle", "frame": "group", "offset": 22},
          "encoding": {
            "x": {"field": "f", "type": "quantitative", "scale": {"type": "log", "domain": [1, 500000], "nice": false},
              "axis": {"values": [1,2,3,4,5,6,7,8,9,10,20,30,40,50,60,70,80,90,100,200,300,400,500,600,700,800,900,1000,2000,3000,4000,5000,6000,7000,8000,9000,10000,20000,30000,40000,50000,60000,70000,80000,90000,100000,200000,300000,400000,500000], "title": "f (Hz)", "labelOverlap": false, "labelFlush": false, "labelPadding": 4, "titlePadding": 2,
                "labelExpr": "datum.value==1?'1':datum.value==10?'10':datum.value==100?'100':datum.value==1000?'10³':datum.value==10000?'10⁴':datum.value==100000?'10⁵':datum.value==500000?'5×10⁵':''",
                "gridColor": {"condition": {"test": "datum.value==1||datum.value==10||datum.value==100||datum.value==1000||datum.value==10000||datum.value==100000", "value": "#c4c4c4"}, "value": "#ececec"}}},
            "y": {"field": "v", "type": "quantitative", "scale": {"domain": [-135, 45], "nice": false, "zero": false}, "axis": {"values": [-135, -90, -45, 0, 45], "title": "Phase (°)", "titlePadding": 4}}
          },
          "layer": [
            {"data": {"name": "ph_th"}, "transform": [{"filter": "datum.p=='c' && datum.s=='Null-load'"}], "mark": {"type": "line", "color": "#0000ff", "strokeWidth": 2.5, "clip": true}, "encoding": {}},
            {"data": {"name": "ph_th"}, "transform": [{"filter": "datum.p=='c' && datum.s=='Full-load'"}], "mark": {"type": "line", "color": "#ff0000", "strokeWidth": 2.5, "strokeDash": [7, 5], "clip": true}, "encoding": {}},
            {"data": {"name": "ph_meas"}, "transform": [{"filter": "datum.p=='c' && datum.s=='Null-load'"}], "mark": {"type": "point", "shape": "triangle-up", "filled": true, "color": "#0000ff", "size": 80, "opacity": 1}},
            {"data": {"name": "ph_meas"}, "transform": [{"filter": "datum.p=='c' && datum.s=='Full-load'"}], "mark": {"type": "point", "shape": "circle", "filled": true, "color": "#ff0000", "size": 60, "opacity": 1}}
          ]
        }
      ]
    }
  ],
  "spacing": 24
}
